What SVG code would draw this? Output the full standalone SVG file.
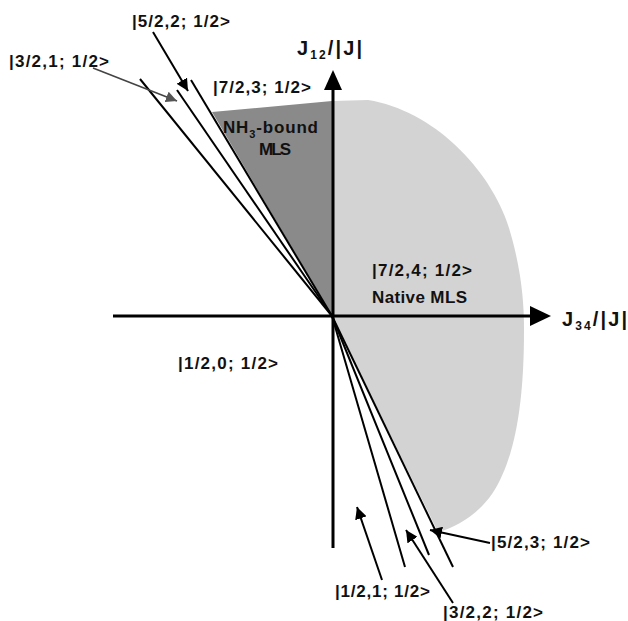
<svg xmlns="http://www.w3.org/2000/svg" width="628" height="621" viewBox="0 0 628 621">
<style>
  .lbl { font-family: "Liberation Sans", Arial, sans-serif; font-weight: bold; font-size: 17px; fill: #111; }
  .jl { font-size: 20px; }
  .ax { stroke: #000; stroke-width: 3; fill: none; }
  .ln { stroke: #000; stroke-width: 2; fill: none; }
  .ptr { stroke: #000; stroke-width: 2; fill: none; marker-end: url(#head); }
  .ptrg { stroke: #444; stroke-width: 1.6; fill: none; marker-end: url(#headg); }
</style>
<defs>
  <marker id="head" viewBox="0 0 10 10" refX="10" refY="5" markerWidth="6" markerHeight="6" orient="auto" markerUnits="strokeWidth">
    <path d="M0,0 L10,5 L0,10 Z" fill="#000"/>
  </marker>
  <marker id="headg" viewBox="0 0 10 10" refX="10" refY="5" markerWidth="7" markerHeight="7" orient="auto" markerUnits="strokeWidth">
    <path d="M0,0 L10,5 L0,10 Z" fill="#555"/>
  </marker>
</defs>
<rect width="628" height="621" fill="#fff"/>

<g id="native-region">
  <path d="M332,316 L332,101 L368,100 C432,110 490,168 509,228 C521,268 524,300 524,330 C524,400 516,458 492,494 C477,515 457,527 438,532 Z" fill="#d3d3d3"/>
</g>
<g id="nh3-region">
  <polygon points="212,112 332,101 332,316" fill="#8a8a8a"/>
</g>

<g id="axes">
  <line class="ax" x1="113" y1="316" x2="532" y2="316"/>
  <polygon points="551,316 530,306 530,326" fill="#000"/>
  <line class="ax" x1="333" y1="548" x2="333" y2="88"/>
  <polygon points="333,70 324,90 342,90" fill="#000"/>
</g>

<g id="connectors">
  <line class="ln" x1="140" y1="79" x2="332" y2="316"/>
  <line class="ln" x1="177" y1="90" x2="332" y2="316"/>
  <line class="ln" x1="191" y1="80" x2="332" y2="316"/>
  <line class="ln" x1="332" y1="316" x2="405" y2="567"/>
  <line class="ln" x1="332" y1="316" x2="429" y2="555"/>
  <line class="ln" x1="332" y1="316" x2="453" y2="567"/>
  <line class="ptr" x1="153" y1="32" x2="188" y2="91"/>
  <line class="ptrg" x1="93" y1="68" x2="177" y2="101"/>
  <line class="ptr" x1="382" y1="580" x2="357" y2="507"/>
  <line class="ptr" x1="453" y1="603" x2="406" y2="530"/>
  <line class="ptr" x1="490" y1="543" x2="430" y2="530"/>
</g>

<g id="label-522"><text class="lbl" x="132" y="27" textLength="98" lengthAdjust="spacing">|5/2,2; 1/2&gt;</text></g>
<g id="label-321"><text class="lbl" x="9" y="67" textLength="100" lengthAdjust="spacing">|3/2,1; 1/2&gt;</text></g>
<g id="label-723"><text class="lbl" x="213" y="93" textLength="98" lengthAdjust="spacing">|7/2,3; 1/2&gt;</text></g>
<g id="label-j12"><text class="lbl jl" x="297" y="55" textLength="65" lengthAdjust="spacing">J<tspan font-size="12" dy="4">12</tspan><tspan dy="-4">/|J|</tspan></text></g>
<g id="label-nh3"><text class="lbl" x="223" y="133" textLength="95" lengthAdjust="spacing">NH<tspan font-size="11" dy="5">3</tspan><tspan dy="-5">-bound</tspan></text>
  <text class="lbl" x="259" y="155" textLength="32" lengthAdjust="spacing">MLS</text></g>
<g id="label-724"><text class="lbl" x="372" y="276" textLength="100" lengthAdjust="spacing">|7/2,4; 1/2&gt;</text></g>
<g id="label-native"><text class="lbl" x="372" y="303" textLength="95" lengthAdjust="spacing">Native MLS</text></g>
<g id="label-j34"><text class="lbl jl" x="562" y="326" textLength="65" lengthAdjust="spacing">J<tspan font-size="12" dy="4">34</tspan><tspan dy="-4">/|J|</tspan></text></g>
<g id="label-120"><text class="lbl" x="178" y="369" textLength="100" lengthAdjust="spacing">|1/2,0; 1/2&gt;</text></g>
<g id="label-523"><text class="lbl" x="491" y="548" textLength="99" lengthAdjust="spacing">|5/2,3; 1/2&gt;</text></g>
<g id="label-121"><text class="lbl" x="335" y="597" textLength="95" lengthAdjust="spacing">|1/2,1; 1/2&gt;</text></g>
<g id="label-322"><text class="lbl" x="443" y="618" textLength="100" lengthAdjust="spacing">|3/2,2; 1/2&gt;</text></g>
</svg>
